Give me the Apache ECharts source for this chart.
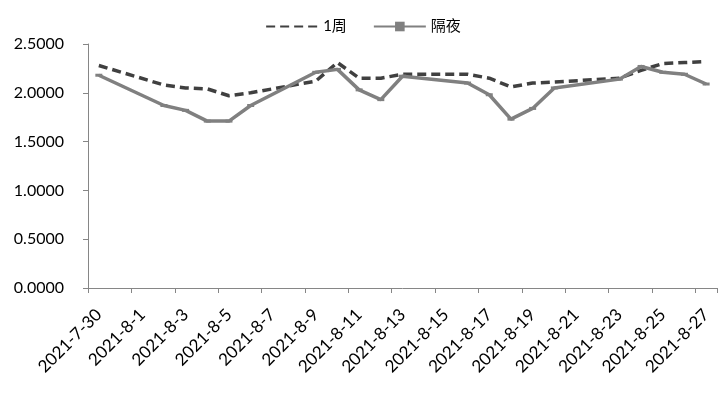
<!DOCTYPE html>
<html>
<head>
<meta charset="utf-8">
<script src="https://cdn.jsdelivr.net/npm/echarts@6/dist/echarts.min.js"></script>
<style>
  html, body { margin: 0; padding: 0; background: #fff; }
  #chart { width: 726px; height: 398px; }
</style>
</head>
<body>
<div id="chart"></div>
<script>
// 日历日（横轴类目）
var startDay = new Date(2021, 6, 30);
var dayCount = 29;
// 交易日
var tradeDays = ['2021-7-30', '2021-8-2', '2021-8-3', '2021-8-4', '2021-8-5', '2021-8-6',
    '2021-8-9', '2021-8-10', '2021-8-11', '2021-8-12', '2021-8-13',
    '2021-8-16', '2021-8-17', '2021-8-18', '2021-8-19', '2021-8-20',
    '2021-8-23', '2021-8-24', '2021-8-25', '2021-8-26', '2021-8-27'];
// 1周
var week1 = [2.28, 2.08, 2.05, 2.04, 1.97, 2.00,
    2.12, 2.31, 2.15, 2.15, 2.19,
    2.19, 2.15, 2.06, 2.10, 2.11,
    2.15, 2.23, 2.30, 2.31, 2.32];
// 隔夜
var overnight = [2.18, 1.87, 1.82, 1.71, 1.71, 1.87,
    2.21, 2.24, 2.03, 1.93, 2.17,
    2.10, 1.98, 1.73, 1.84, 2.05,
    2.14, 2.27, 2.21, 2.19, 2.09];

var categories = [];
for (var i = 0; i < dayCount; i++) {
    var d = new Date(startDay.getTime() + i * 86400000);
    categories.push(d.getFullYear() + '-' + (d.getMonth() + 1) + '-' + d.getDate());
}
// 把交易日数据放到日历日上，周末为空
function toCalendar(values) {
    return categories.map(function (c) {
        var k = tradeDays.indexOf(c);
        return k >= 0 ? values[k] : null;
    });
}

var font = 'Lato, "Noto Sans CJK SC", sans-serif';
var myChart = echarts.init(document.getElementById('chart'));
var option = {
    animation: false,
    legend: {
        top: 14,
        left: 'center',
        itemWidth: 52,
        itemHeight: 12,
        itemGap: 26,
        textStyle: {fontSize: 15, color: '#000', fontFamily: font},
        data: [
            {name: '1周', itemStyle: {opacity: 0}},
            {name: '隔夜'}
        ]
    },
    grid: {left: 88, right: 9, top: 44, bottom: 110, containLabel: false},
    xAxis: {
        type: 'category',
        boundaryGap: true,
        data: categories,
        axisLine: {lineStyle: {color: '#868686', width: 1}},
        axisTick: {show: true, interval: 1, length: 5, lineStyle: {color: '#868686'}},
        axisLabel: {
            interval: 1,
            rotate: 45,
            margin: 24,
            fontSize: 17,
            color: '#000',
            fontFamily: font
        }
    },
    yAxis: {
        type: 'value',
        min: 0,
        max: 2.5,
        interval: 0.5,
        splitLine: {show: false},
        axisLine: {show: true, lineStyle: {color: '#868686', width: 1}},
        axisTick: {show: true, length: 5, lineStyle: {color: '#868686'}},
        axisLabel: {
            fontSize: 16,
            color: '#000',
            margin: 24,
            fontFamily: font,
            formatter: function (v) { return v.toFixed(4); }
        }
    },
    series: [
        {
            name: '1周',
            type: 'line',
            data: toCalendar(week1),
            connectNulls: true,
            symbol: 'none',
            lineStyle: {color: '#404040', width: 3.5, type: [9, 5]},
            itemStyle: {color: '#404040'}
        },
        {
            name: '隔夜',
            type: 'line',
            data: toCalendar(overnight),
            connectNulls: true,
            symbol: 'rect',
            symbolSize: [7, 3],
            lineStyle: {color: '#808080', width: 3.5},
            itemStyle: {color: '#808080'}
        }
    ]
};
myChart.setOption(option);
</script>
</body>
</html>
